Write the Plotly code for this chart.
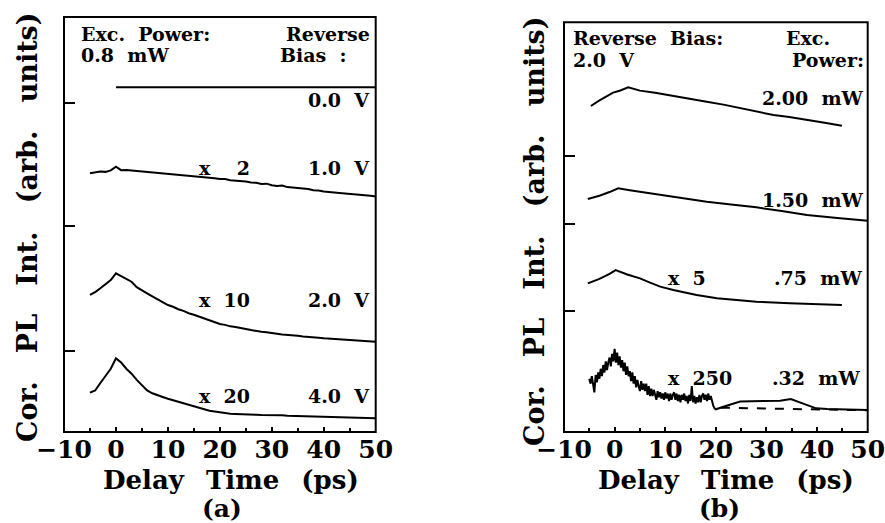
import plotly.graph_objects as go

# ---------------- panel (a): fixed excitation power 0.8 mW ----------------
t_a = list(range(-5, 51))  # delay time grid, ps

bias_0v_t = [0, 50]
bias_0v = [2.78, 2.78]

bias_1v = [2.086, 2.092, 2.100, 2.098, 2.110, 2.140, 2.112, 2.114, 2.110, 2.111,
           2.104, 2.100, 2.097, 2.090, 2.088, 2.082, 2.080, 2.075, 2.072, 2.066,
           2.063, 2.058, 2.056, 2.050, 2.047, 2.040, 2.040, 2.031, 2.029, 2.022,
           2.020, 2.012, 2.010, 2.000, 2.003, 1.990, 1.985, 1.988, 1.975, 1.972,
           1.968, 1.958, 1.960, 1.950, 1.948, 1.940, 1.938, 1.932, 1.928, 1.925,
           1.920, 1.915, 1.912, 1.907, 1.905, 1.900]

bias_2v = [1.105, 1.128, 1.159, 1.190, 1.226, 1.280, 1.258, 1.230, 1.212, 1.168,
           1.140, 1.118, 1.094, 1.072, 1.046, 1.024, 1.010, 0.990, 0.977, 0.958,
           0.946, 0.930, 0.917, 0.899, 0.887, 0.871, 0.864, 0.852, 0.847, 0.836,
           0.830, 0.822, 0.818, 0.808, 0.804, 0.796, 0.793, 0.787, 0.785, 0.779,
           0.776, 0.770, 0.768, 0.762, 0.761, 0.756, 0.753, 0.751, 0.746, 0.745,
           0.740, 0.739, 0.734, 0.735, 0.730, 0.728]

bias_4v = [0.317, 0.335, 0.395, 0.450, 0.510, 0.594, 0.560, 0.510, 0.470, 0.420,
           0.375, 0.335, 0.312, 0.295, 0.282, 0.268, 0.256, 0.242, 0.231, 0.217,
           0.206, 0.190, 0.182, 0.172, 0.166, 0.158, 0.153, 0.147, 0.145, 0.142,
           0.141, 0.140, 0.139, 0.137, 0.138, 0.136, 0.134, 0.135, 0.132, 0.131,
           0.130, 0.129, 0.127, 0.126, 0.125, 0.124, 0.122, 0.121, 0.120, 0.118,
           0.117, 0.116, 0.115, 0.113, 0.112, 0.110]

# ---------------- panel (b): fixed reverse bias 2.0 V ----------------
t_200 = [-4.7, -2.9, -0.3, 1.0, 2.7, 5.0, 8.0, 11.6, 15.0, 18.2, 21.5, 24.8,
         28.0, 31.4, 34.5, 38.0, 41.5, 44.9]
p_200 = [2.629, 2.677, 2.737, 2.752, 2.780, 2.753, 2.735, 2.712, 2.690, 2.664,
         2.640, 2.610, 2.583, 2.556, 2.540, 2.520, 2.494, 2.470]

t_150 = [-5.3, -3.0, -1.0, 0.7, 3.0, 5.0, 8.0, 11.6, 15.0, 18.2, 23.0, 28.0,
         33.0, 38.0, 44.0, 50.0]
p_150 = [1.879, 1.905, 1.935, 1.965, 1.950, 1.938, 1.920, 1.898, 1.878, 1.857,
         1.835, 1.812, 1.782, 1.750, 1.726, 1.704]

t_075 = [-5.3, -3.0, -1.0, 0.2, 2.5, 5.0, 7.0, 9.0, 11.6, 14.0, 16.2, 20.2,
         24.0, 28.0, 34.6, 40.0, 44.9]
p_075 = [1.199, 1.235, 1.275, 1.306, 1.270, 1.239, 1.205, 1.172, 1.145, 1.122,
         1.105, 1.078, 1.062, 1.051, 1.038, 1.030, 1.024]

# noisy low-power trace, 0.25 ps sampling up to 20 ps, then smoother tail
t_032 = [-5.0 + 0.25 * i for i in range(101)] + [21.5, 23.0, 24.8, 27.0, 30.0,
                                                  32.7, 34.8, 37.0, 39.8, 42.0,
                                                  45.0, 50.0]
p_032 = [0.43, 0.39, 0.45, 0.36, 0.32, 0.46, 0.40, 0.48,
         0.43, 0.51, 0.45, 0.54, 0.48, 0.57, 0.50, 0.56,
         0.60, 0.53, 0.63, 0.57, 0.67, 0.56, 0.64, 0.54,
         0.61, 0.52, 0.58, 0.49, 0.56, 0.46, 0.53, 0.45,
         0.49, 0.41, 0.48, 0.39, 0.45, 0.36, 0.42, 0.37,
         0.33, 0.41, 0.34, 0.39, 0.33, 0.39, 0.30, 0.37,
         0.29, 0.35, 0.29, 0.34, 0.30, 0.26, 0.33, 0.28,
         0.32, 0.27, 0.31, 0.26, 0.32, 0.27, 0.31, 0.25,
         0.31, 0.26, 0.30, 0.32, 0.26, 0.31, 0.25, 0.30,
         0.24, 0.30, 0.26, 0.31, 0.25, 0.29, 0.23, 0.30,
         0.25, 0.37, 0.24, 0.29, 0.23, 0.28, 0.24, 0.30,
         0.24, 0.29, 0.31, 0.26, 0.30, 0.25, 0.31, 0.26,
         0.29, 0.24, 0.21, 0.19, 0.183,
         0.204, 0.225, 0.245, 0.248, 0.248, 0.252, 0.266, 0.235, 0.191, 0.185,
         0.182, 0.177]

fit_032_t = [21, 30, 40, 50]
fit_032 = [0.196, 0.188, 0.181, 0.175]

# tick positions on the intensity axes
yt_a = [0.653, 1.661, 2.653]
yt_b = [0.976, 1.677, 2.228]

FONT = "DejaVu Serif"

fig = go.Figure()

def curve(x, y, xa, ya, dash=None):
    fig.add_trace(go.Scatter(x=x, y=y, mode="lines", xaxis=xa, yaxis=ya,
                             line=dict(color="black", width=2, dash=dash),
                             showlegend=False, hoverinfo="skip"))

curve(bias_0v_t, bias_0v, "x", "y")
curve(t_a, bias_1v, "x", "y")
curve(t_a, bias_2v, "x", "y")
curve(t_a, bias_4v, "x", "y")

curve(t_200, p_200, "x2", "y2")
curve(t_150, p_150, "x2", "y2")
curve(t_075, p_075, "x2", "y2")
curve(t_032, p_032, "x2", "y2")
curve(fit_032_t, fit_032, "x2", "y2", dash="dash")

xaxis_common = dict(range=[-10, 50], tickvals=[-10, 0, 10, 20, 30, 40, 50],
                    ticks="inside", ticklen=5, tickwidth=2, tickcolor="black",
                    minor=dict(dtick=5, ticks="inside", ticklen=4, tickwidth=2,
                               tickcolor="black"),
                    showline=False, automargin=False, ticklabeloverflow="allow",
                    showgrid=False, zeroline=False,
                    tickfont=dict(family=FONT, size=25, color="black", weight="bold"))
yaxis_common = dict(ticks="inside", ticklen=11, tickwidth=2, tickcolor="black",
                    showticklabels=False, showline=False, automargin=False,
                    showgrid=False, zeroline=False)

fig.update_layout(
    template="none",
    width=885, height=523, margin=dict(l=0, r=0, t=0, b=0, pad=0),
    paper_bgcolor="white", plot_bgcolor="white",
    xaxis=dict(domain=[64 / 885, 375.7 / 885], anchor="y", **xaxis_common),
    yaxis=dict(domain=[1 - 432 / 523, 1 - 17 / 523], anchor="x",
               range=[0, 3.347], tickvals=yt_a, **yaxis_common),
    xaxis2=dict(domain=[564 / 885, 867.7 / 885], anchor="y2", **xaxis_common),
    yaxis2=dict(domain=[1 - 432 / 523, 1 - 22.3 / 523], anchor="x2",
                range=[0, 3.304], tickvals=yt_b, **yaxis_common),
)

# frame around each panel
for xr, yr in (("x domain", "y domain"), ("x2 domain", "y2 domain")):
    fig.add_shape(type="rect", xref=xr, yref=yr, x0=0, x1=1, y0=0, y1=1,
                  line=dict(color="black", width=2), layer="above")

def label(text, x, y, xa, ya, anchor):
    fig.add_annotation(text=text, x=x, y=y, xref=xa, yref=ya, xanchor=anchor,
                       yanchor="middle", showarrow=False, borderpad=0,
                       font=dict(family=FONT, size=19, color="black", weight="bold"))

# panel (a) labels
label("Exc.  Power:", -6.9, 3.21, "x", "y", "left")
label("0.8  mW", -6.9, 3.04, "x", "y", "left")
label("Reverse", 49.0, 3.21, "x", "y", "right")
label("Bias  :", 31.3, 3.04, "x", "y", "left")
label("0.0  V", 49.0, 2.677, "x", "y", "right")
label("x  \u20072", 15.7, 2.129, "x", "y", "left")
label("1.0  V", 49.0, 2.129, "x", "y", "right")
label("x  10", 15.7, 1.065, "x", "y", "left")
label("2.0  V", 49.0, 1.065, "x", "y", "right")
label("x  20", 15.7, 0.29, "x", "y", "left")
label("4.0  V", 49.0, 0.29, "x", "y", "right")

# panel (b) labels
label("Reverse  Bias:", -8.4, 3.18, "x2", "y2", "left")
label("2.0  V", -8.4, 3.0, "x2", "y2", "left")
label("Exc.", 33.6, 3.18, "x2", "y2", "left")
label("Power:", 49.4, 3.0, "x2", "y2", "right")
label("2.00  mW", 49.4, 2.694, "x2", "y2", "right")
label("1.50  mW", 49.4, 1.871, "x2", "y2", "right")
label("x  5", 10.35, 1.242, "x2", "y2", "left")
label(".75  mW", 49.0, 1.242, "x2", "y2", "right")
label("x  250", 10.35, 0.435, "x2", "y2", "left")
label(".32  mW", 48.6, 0.435, "x2", "y2", "right")

def title(text, x, y, angle=0, size=27):
    fig.add_annotation(text=text, x=x / 885, y=1 - y / 523, xref="paper",
                       yref="paper", xanchor="center", yanchor="middle",
                       textangle=angle, showarrow=False, borderpad=0,
                       font=dict(family=FONT, size=size, color="black", weight="bold"))

XTITLE = "Delay\u2002 Time\u2002 (ps)"
YTITLE = "Cor.   PL   Int.   (arb.   units)"

title(XTITLE, 231, 480, size=26)
title("(a)", 222, 508, size=25)
title(YTITLE, 28, 227, angle=-90)
title(XTITLE, 726, 480, size=26)
title("(b)", 719, 508, size=25)
title(YTITLE, 534, 231, angle=-90)

fig.write_html("out.html")
